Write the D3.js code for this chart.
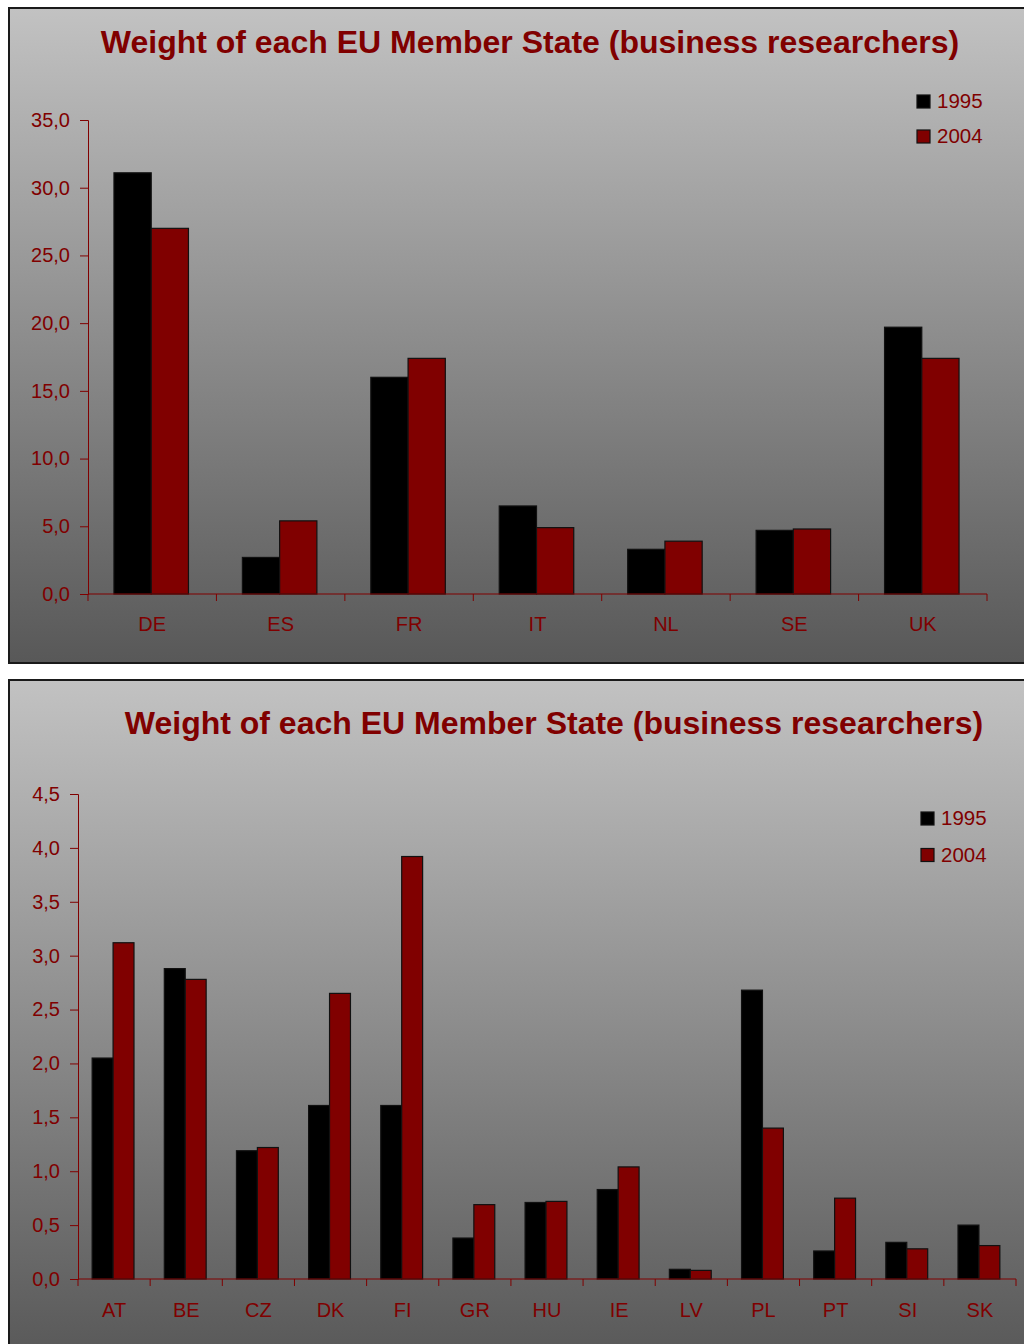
<!DOCTYPE html>
<html>
<head>
<meta charset="utf-8">
<script src="https://cdn.jsdelivr.net/npm/d3@7"></script>
<style>
  html, body { margin: 0; padding: 0; background: #ffffff; }
  svg { display: block; font-family: "Liberation Sans", Arial, sans-serif; }
</style>
</head>
<body>
<svg id="chart" width="1024" height="1344"></svg>
<script>
// ---- Data ----
const titleText = "Weight of each EU Member State (business researchers)";
const seriesNames = ["1995", "2004"];

const catsTop = ["DE", "ES", "FR", "IT", "NL", "SE", "UK"];
const top1995 = [31.1, 2.7, 16.0, 6.5, 3.3, 4.7, 19.7];
const top2004 = [27.0, 5.4, 17.4, 4.9, 3.9, 4.8, 17.4];
const ticksTop = [0, 5, 10, 15, 20, 25, 30, 35];

const catsBottom = ["AT", "BE", "CZ", "DK", "FI", "GR", "HU", "IE", "LV", "PL", "PT", "SI", "SK"];
const bottom1995 = [2.05, 2.88, 1.19, 1.61, 1.61, 0.38, 0.71, 0.83, 0.09, 2.68, 0.26, 0.34, 0.50];
const bottom2004 = [3.12, 2.78, 1.22, 2.65, 3.92, 0.69, 0.72, 1.04, 0.08, 1.40, 0.75, 0.28, 0.31];
const ticksBottom = [0, 0.5, 1, 1.5, 2, 2.5, 3, 3.5, 4, 4.5];

// ---- Styles ----
const RED = "#800000";
const seriesColors = ["#000000", "#800000"];
const fmt = v => d3.format(".1f")(v).replace(".", ",");

const svg = d3.select("#chart");
const defs = svg.append("defs");
const grad = defs.append("linearGradient")
  .attr("id", "bg").attr("x1", 0).attr("y1", 0).attr("x2", 0).attr("y2", 1);
grad.append("stop").attr("offset", "0%").attr("stop-color", "#c2c2c2");
grad.append("stop").attr("offset", "100%").attr("stop-color", "#585858");

function drawChart(cfg) {
  const g = svg.append("g");
  // panel
  g.append("rect")
    .attr("x", cfg.panel[0]).attr("y", cfg.panel[1])
    .attr("width", cfg.panel[2]).attr("height", cfg.panel[3])
    .attr("fill", "url(#bg)").attr("stroke", "#1a1a1a").attr("stroke-width", 2);

  // title
  g.append("text")
    .attr("x", cfg.titleX).attr("y", cfg.titleY)
    .attr("text-anchor", "middle")
    .attr("font-size", 32).attr("font-weight", "bold")
    .attr("fill", RED)
    .text(titleText);

  const x = d3.scaleBand().domain(cfg.cats).range([cfg.x0, cfg.x1]).padding(0);
  const y = d3.scaleLinear().domain([0, cfg.ymax]).range([cfg.y0, cfg.yTop]);
  const bw = x.bandwidth() * 0.29;

  // y axis
  const yAxis = d3.axisLeft(y).tickValues(cfg.ticks).tickFormat(fmt).tickSize(8).tickPadding(10);
  const ya = g.append("g").attr("transform", `translate(${cfg.x0},0)`).call(yAxis);
  ya.select(".domain").attr("stroke", RED).attr("stroke-width", 1);
  ya.selectAll(".tick line").attr("stroke", RED);
  ya.selectAll(".tick text").attr("fill", RED).attr("font-size", cfg.tickFont)
    .attr("font-family", "'Liberation Sans', Arial, sans-serif");

  // bars
  const data = cfg.cats.map((c, i) => ({ c, v: [cfg.s1[i], cfg.s2[i]] }));
  data.forEach(d => {
    const cx = x(d.c) + x.bandwidth() / 2 - 1;
    d.v.forEach((v, k) => {
      g.append("rect")
        .attr("x", cx - bw + k * bw)
        .attr("y", y(v))
        .attr("width", bw)
        .attr("height", y(0) - y(v))
        .attr("fill", seriesColors[k])
        .attr("stroke", "#111")
        .attr("stroke-width", 1.2);
    });
  });

  // x axis
  const xAxis = d3.axisBottom(x).tickSize(0).tickPadding(cfg.catPad);
  const xa = g.append("g").attr("transform", `translate(0,${cfg.y0})`).call(xAxis);
  xa.select(".domain").remove();
  xa.selectAll(".tick text").attr("fill", RED).attr("font-size", 20)
    .attr("font-family", "'Liberation Sans', Arial, sans-serif");
  g.append("line")
    .attr("x1", cfg.x0).attr("x2", cfg.x1)
    .attr("y1", y(0)).attr("y2", y(0))
    .attr("stroke", RED).attr("stroke-width", 1.2);
  const bounds = cfg.cats.map(c => x(c)).concat([x(cfg.cats[cfg.cats.length - 1]) + x.bandwidth()]);
  g.selectAll(null).data(bounds).enter().append("line")
    .attr("x1", d => d).attr("x2", d => d)
    .attr("y1", y(0)).attr("y2", y(0) + 7)
    .attr("stroke", RED).attr("stroke-width", 1);

  // legend
  seriesNames.forEach((s, k) => {
    const ly = cfg.legY + k * cfg.legStep;
    g.append("rect")
      .attr("x", cfg.legX).attr("y", ly)
      .attr("width", 13).attr("height", 13)
      .attr("fill", seriesColors[k]).attr("stroke", "#111").attr("stroke-width", 1.2);
    g.append("text")
      .attr("x", cfg.legX + 20).attr("y", ly + 13)
      .attr("font-size", 20.5).attr("fill", RED)
      .text(s);
  });
}

drawChart({
  panel: [9, 8, 1030, 655],
  titleX: 530, titleY: 53,
  cats: catsTop, s1: top1995, s2: top2004,
  ticks: ticksTop, ymax: 35,
  x0: 88, x1: 987, y0: 594, yTop: 120,
  tickFont: 20, catPad: 23,
  legX: 917, legY: 95, legStep: 35
});

drawChart({
  panel: [9, 680, 1030, 680],
  titleX: 554, titleY: 734,
  cats: catsBottom, s1: bottom1995, s2: bottom2004,
  ticks: ticksBottom, ymax: 4.5,
  x0: 78, x1: 1016, y0: 1279, yTop: 794,
  tickFont: 20, catPad: 24,
  legX: 921, legY: 812, legStep: 36.5
});
</script>
</body>
</html>
